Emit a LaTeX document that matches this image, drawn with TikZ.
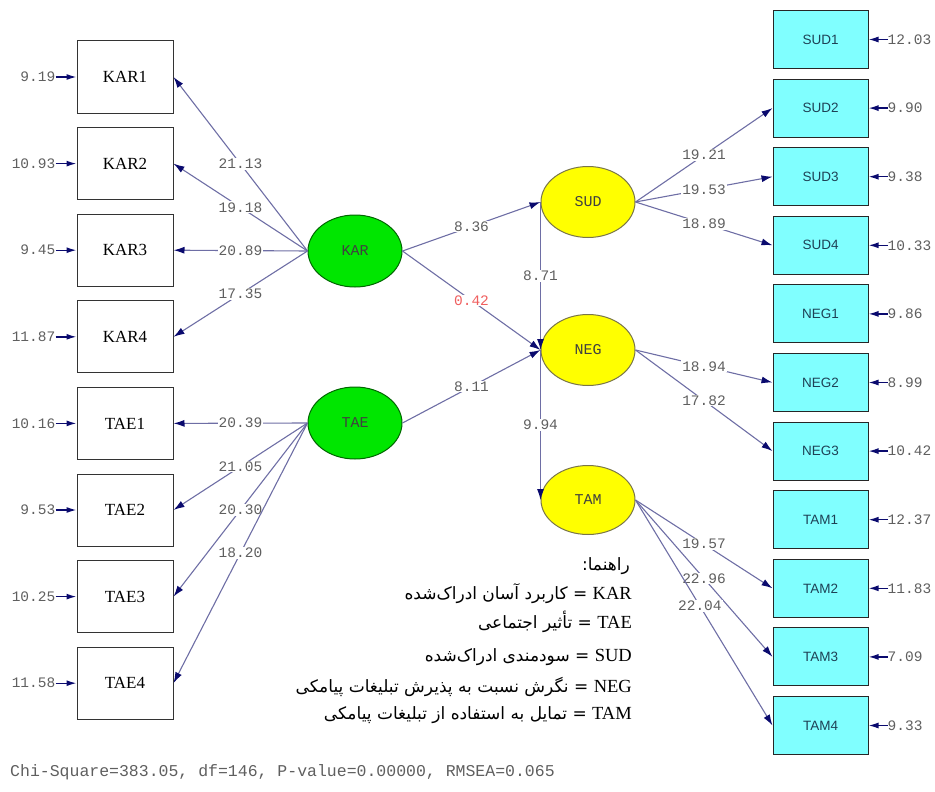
\documentclass[tikz,border=0pt]{standalone}
\usepackage{fontspec}
\setmainfont{Liberation Serif}
\newfontfamily\lisrelfont{Liberation Mono}
\newfontfamily\cyanfont{Liberation Sans}
\newfontfamily\persianfont[Script=Arabic]{DejaVu Sans}
\usepackage{xcolor}
\usepackage{tikz}
\usetikzlibrary{arrows.meta, shapes.geometric, positioning}
\TeXXeTstate=1

\definecolor{pathline}{RGB}{110,110,165}
\definecolor{tipnavy}{RGB}{10,10,110}
\definecolor{latgreen}{RGB}{0,230,0}
\definecolor{latyellow}{RGB}{255,255,0}
\definecolor{obscyan}{RGB}{128,255,255}
\definecolor{numgray}{RGB}{95,95,95}
\definecolor{redval}{RGB}{240,95,95}
\definecolor{cyantext}{RGB}{30,65,85}

\tikzset{
  leftbox/.style={draw=black!80, line width=1pt, fill=white, rectangle, minimum width=96pt, minimum height=72pt, font=\fontsize{17}{17}\selectfont},
  rightbox/.style={draw=black!85, line width=1pt, fill=obscyan, rectangle, minimum width=95pt, minimum height=58pt, text=cyantext, font=\cyanfont\fontsize{13.5}{13.5}\selectfont},
  exolat/.style={draw=green!40!black, line width=1pt, fill=latgreen, ellipse, minimum width=94pt, minimum height=72pt, text=black!75, font=\lisrelfont\fontsize{15}{15}\selectfont},
  endolat/.style={draw=black!60!yellow, line width=1pt, fill=latyellow, ellipse, minimum width=94pt, minimum height=71pt, text=black!75, font=\lisrelfont\fontsize{15}{15}\selectfont},
  loading/.style={draw=pathline, line width=1.1pt, -{Latex[length=11pt, width=7pt, color=tipnavy]}},
  errarrow/.style={draw=tipnavy, line width=1.4pt, -{Latex[length=10pt, width=6pt]}},
  lbl/.style={fill=white, inner sep=1pt, text=numgray, font=\lisrelfont\fontsize{14.5}{14.5}\selectfont},
  errnum/.style={inner sep=0pt, text=numgray, font=\lisrelfont\fontsize{14.5}{14.5}\selectfont},
  legendline/.style={anchor=east, inner sep=0pt, font=\persianfont\fontsize{17}{17}\selectfont},
}
\newcommand{\latin}[1]{{\rmfamily\fontsize{18.5}{18.5}\selectfont #1}}

\begin{document}
\begin{tikzpicture}[x=1pt, y=-1pt, >=Latex]
        \useasboundingbox (0,0) rectangle (935,792);

        % Left indicators
        \node[leftbox] (KAR1) at (125,77) {KAR1};
        \node[leftbox, below=13.6pt of KAR1] (KAR2) {KAR2};
        \node[leftbox, below=13.6pt of KAR2] (KAR3) {KAR3};
        \node[leftbox, below=13.6pt of KAR3] (KAR4) {KAR4};
        \node[leftbox, below=13.6pt of KAR4] (TAE1) {TAE1};
        \node[leftbox, below=13.6pt of TAE1] (TAE2) {TAE2};
        \node[leftbox, below=13.6pt of TAE2] (TAE3) {TAE3};
        \node[leftbox, below=13.6pt of TAE3] (TAE4) {TAE4};

        % Right indicators
        \node[rightbox] (SUD1) at (820.5,39.5) {SUD1};
        \node[rightbox, below=9.6pt of SUD1] (SUD2) {SUD2};
        \node[rightbox, below=9.6pt of SUD2] (SUD3) {SUD3};
        \node[rightbox, below=9.6pt of SUD3] (SUD4) {SUD4};
        \node[rightbox, below=9.6pt of SUD4] (NEG1) {NEG1};
        \node[rightbox, below=9.6pt of NEG1] (NEG2) {NEG2};
        \node[rightbox, below=9.6pt of NEG2] (NEG3) {NEG3};
        \node[rightbox, below=9.6pt of NEG3] (TAM1) {TAM1};
        \node[rightbox, below=9.6pt of TAM1] (TAM2) {TAM2};
        \node[rightbox, below=9.6pt of TAM2] (TAM3) {TAM3};
        \node[rightbox, below=9.6pt of TAM3] (TAM4) {TAM4};

        % Latent variables
        \node[exolat] (KAR) at (355,251) {KAR};
        \node[exolat] (TAE) at (355,423) {TAE};
        \node[endolat] (SUD) at (588,202) {SUD};
        \node[endolat] (NEG) at (588,350) {NEG};
        \node[endolat, minimum height=69pt] (TAM) at (588,500) {TAM};

        % Error terms, left
        \node[errnum, left=21pt of KAR1] (eKAR1) {9.19};
        \node[errnum, left=21pt of KAR2] (eKAR2) {10.93};
        \node[errnum, left=21pt of KAR3] (eKAR3) {9.45};
        \node[errnum, left=21pt of KAR4] (eKAR4) {11.87};
        \node[errnum, left=21pt of TAE1] (eTAE1) {10.16};
        \node[errnum, left=21pt of TAE2] (eTAE2) {9.53};
        \node[errnum, left=21pt of TAE3] (eTAE3) {10.25};
        \node[errnum, left=21pt of TAE4] (eTAE4) {11.58};
        \foreach \v in {KAR1,KAR2,KAR3,KAR4,TAE1,TAE2,TAE3,TAE4}
            \draw[errarrow] (e\v) -- (\v);

        % Error terms, right
        \node[errnum, right=19pt of SUD1] (eSUD1) {12.03};
        \node[errnum, right=19pt of SUD2] (eSUD2) {9.90};
        \node[errnum, right=19pt of SUD3] (eSUD3) {9.38};
        \node[errnum, right=19pt of SUD4] (eSUD4) {10.33};
        \node[errnum, right=19pt of NEG1] (eNEG1) {9.86};
        \node[errnum, right=19pt of NEG2] (eNEG2) {8.99};
        \node[errnum, right=19pt of NEG3] (eNEG3) {10.42};
        \node[errnum, right=19pt of TAM1] (eTAM1) {12.37};
        \node[errnum, right=19pt of TAM2] (eTAM2) {11.83};
        \node[errnum, right=19pt of TAM3] (eTAM3) {7.09};
        \node[errnum, right=19pt of TAM4] (eTAM4) {9.33};
        \foreach \v in {SUD1,SUD2,SUD3,SUD4,NEG1,NEG2,NEG3,TAM1,TAM2,TAM3,TAM4}
            \draw[errarrow] (e\v) -- (\v);

        % KAR and TAE loadings
        \draw[loading] (KAR.west) -- node[lbl] {21.13} (KAR1.east);
        \draw[loading] (KAR.west) -- node[lbl] {19.18} (KAR2.east);
        \draw[loading] (KAR.west) -- node[lbl] {20.89} (KAR3.east);
        \draw[loading] (KAR.west) -- node[lbl] {17.35} (KAR4.east);
        \draw[loading] (TAE.west) -- node[lbl] {20.39} (TAE1.east);
        \draw[loading] (TAE.west) -- node[lbl] {21.05} (TAE2.east);
        \draw[loading] (TAE.west) -- node[lbl] {20.30} (TAE3.east);
        \draw[loading] (TAE.west) -- node[lbl] {18.20} (TAE4.east);

        % Structural paths
        \draw[loading] (KAR.east) -- node[lbl] {8.36} (SUD.west);
        \draw[loading] (KAR.east) -- node[lbl, text=redval] {0.42} (NEG.west);
        \draw[loading] (TAE.east) -- node[lbl] {8.11} (NEG.west);
        \draw[loading] (SUD.west) -- node[lbl] {8.71} (NEG.west);
        \draw[loading] (NEG.west) -- node[lbl] {9.94} (TAM.west);

        % SUD, NEG and TAM loadings
        \draw[loading] (SUD.east) -- node[lbl] {19.21} (SUD2.west);
        \draw[loading] (SUD.east) -- node[lbl] {19.53} (SUD3.west);
        \draw[loading] (SUD.east) -- node[lbl] {18.89} (SUD4.west);
        \draw[loading] (NEG.east) -- node[lbl] {18.94} (NEG2.west);
        \draw[loading] (NEG.east) -- node[lbl] {17.82} (NEG3.west);
        \draw[loading] (TAM.east) -- node[lbl] {19.57} (TAM2.west);
        \draw[loading] (TAM.east) -- node[lbl] {22.96} (TAM3.west);
        \draw[loading] (TAM.east) -- node[lbl, pos=0.47] {22.04} (TAM4.west);

        % Legend
        \node[legendline] (legtitle) at (630,566) {\beginR راهنما:\endR};
        \node[legendline] (legKAR) at (632,594) {\beginR کاربرد آسان ادراک‌شده\endR{} = \latin{KAR}};
        \node[legendline] (legTAE) at (632,622) {\beginR تأثیر اجتماعی\endR{} = \latin{TAE}};
        \node[legendline] (legSUD) at (632,657) {\beginR سودمندی ادراک‌شده\endR{} = \latin{SUD}};
        \node[legendline] (legNEG) at (632,687) {\beginR نگرش نسبت به پذیرش تبلیغات پیامکی\endR{} = \latin{NEG}};
        \node[legendline] (legTAM) at (632,715) {\beginR تمایل به استفاده از تبلیغات پیامکی\endR{} = \latin{TAM}};

        % Fit statistics
        \node[anchor=west, inner sep=0pt, text=numgray, font=\lisrelfont\fontsize{16.5}{16.5}\selectfont] (fit) at (10,772) {Chi-Square=383.05, df=146, P-value=0.00000, RMSEA=0.065};
    \end{tikzpicture}
\end{document}
